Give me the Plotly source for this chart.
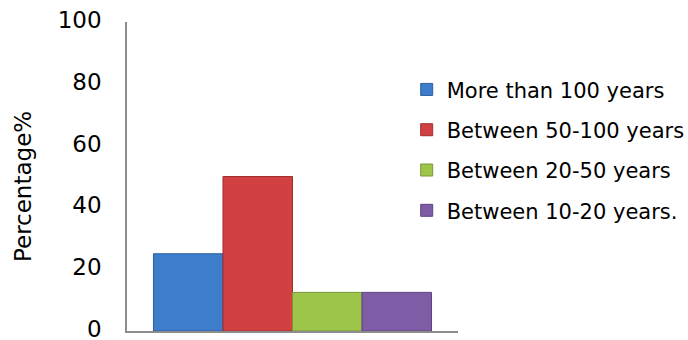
import plotly.graph_objects as go

series_names = ["More than 100 years", "Between 50-100 years", "Between 20-50 years", "Between 10-20 years."]
values = [25, 50, 12.5, 12.5]
colors = ["#3d7dcc", "#d24141", "#9cc54a", "#7e5ca6"]
edge_colors = ["#2c5f9e", "#a02e2e", "#76973a", "#5e4380"]
category = [""]
y_ticks = [0, 20, 40, 60, 80, 100]
y_title = "Percentage%"

FONT = "Verdana, DejaVu Sans, sans-serif"

fig = go.Figure()
for i, (name, v) in enumerate(zip(series_names, values)):
    fig.add_trace(go.Bar(
        x=category, y=[v], name=name,
        marker=dict(color=colors[i], line=dict(color=edge_colors[i], width=1)),
        legendgroup=f"g{i}",
    ))

fig.add_annotation(
    text=y_title, textangle=-90, xref="paper", yref="paper",
    x=-0.314, y=0.466, xanchor="center", yanchor="middle", showarrow=False,
    font=dict(size=23, family=FONT, color="black"),
)

fig.update_layout(
    width=688, height=340,
    margin=dict(l=127, r=230, t=22, b=9, autoexpand=False),
    paper_bgcolor="white", plot_bgcolor="white",
    barmode="group", bargap=0.16, bargroupgap=0,
    font=dict(family=FONT, color="black"),
    showlegend=True,
    legend=dict(
        x=0.845, xanchor="left", y=0.847, yanchor="top",
        font=dict(size=21, family=FONT, color="black"),
        traceorder="grouped", tracegroupgap=10,
        itemwidth=30, bgcolor="rgba(0,0,0,0)",
    ),
    xaxis=dict(showline=True, linecolor="#8c8c8c", linewidth=1.5, showticklabels=False,
               ticks="", showgrid=False, zeroline=False),
    yaxis=dict(range=[0, 100], tickvals=y_ticks, showline=True, linecolor="#8c8c8c",
               linewidth=1.5, showgrid=False, zeroline=False, ticks="",
               tickfont=dict(size=23, family=FONT, color="black"),
               ticklabelstandoff=19, ticklabeloverflow="allow", ticklabelshift=-2),
)

fig.write_html("out.html", config={"displayModeBar": False},
               post_script="document.body.style.margin='0';document.body.style.overflow='hidden';")
